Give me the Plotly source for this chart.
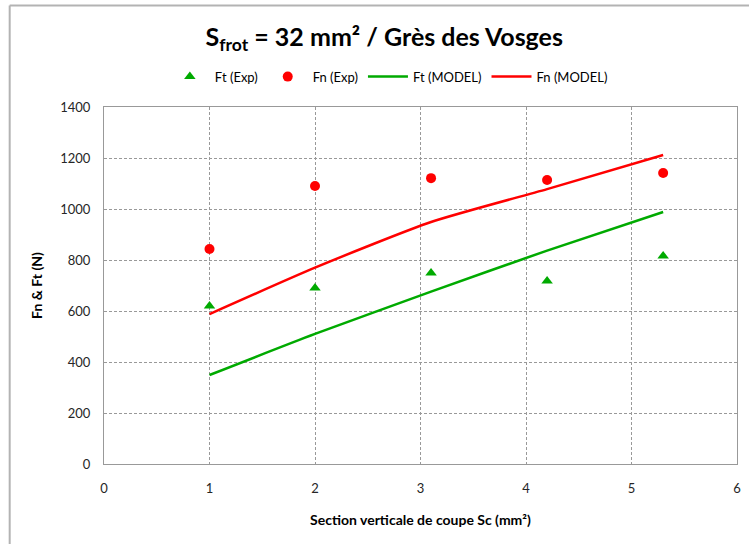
import plotly.graph_objects as go

# Experimental measurements
sc_exp = [1.0, 2.0, 3.1, 4.2, 5.3]
ft_exp = [620, 690, 749, 718, 816]
fn_exp = [843, 1090, 1121, 1114, 1141]

# Model predictions
sc_model = [1.0, 2.0, 3.1, 4.2, 5.3]
ft_model = [349, 510, 676, 837, 988]
fn_model = [588, 770, 949, 1078, 1212]

x_ticks = [0, 1, 2, 3, 4, 5, 6]
y_ticks = [0, 200, 400, 600, 800, 1000, 1200, 1400]

GREEN = "#00AA00"
RED = "#FF0000"
FONT = "Lato, Carlito, 'Open Sans', sans-serif"

fig = go.Figure()
fig.add_trace(go.Scatter(x=sc_exp, y=ft_exp, mode="markers", name="Ft (Exp)",
                         marker=dict(symbol="triangle-up", size=10, color=GREEN)))
fig.add_trace(go.Scatter(x=sc_exp, y=fn_exp, mode="markers", name="Fn (Exp)",
                         marker=dict(symbol="circle", size=10, color=RED)))
fig.add_trace(go.Scatter(x=sc_model, y=ft_model, mode="lines", name="Ft (MODEL)",
                         line=dict(color=GREEN, width=2.5, shape="spline", smoothing=0.6)))
fig.add_trace(go.Scatter(x=sc_model, y=fn_model, mode="lines", name="Fn (MODEL)",
                         line=dict(color=RED, width=2.5, shape="spline", smoothing=0.6)))

axis_common = dict(
    showgrid=True, gridcolor="#999999", griddash="3px,2px", gridwidth=1,
    showline=True, linecolor="#999999", linewidth=1, mirror=True,
    zeroline=False, ticks="", tickfont=dict(family=FONT, size=13, color="#262626"),
)

# chart-area frame (top and left edges)
frame = dict(color="#b3b3b3", width=2)

fig.update_layout(
    width=749, height=544,
    paper_bgcolor="white", plot_bgcolor="white",
    margin=dict(l=104, r=8, t=107, b=80),
    font=dict(family=FONT),
    title=dict(text="<b>S<sub>frot</sub> = 32 mm² / Grès des Vosges</b>",
               x=0.513, xanchor="center", y=0.932, yanchor="middle",
               font=dict(family=FONT, size=25, color="black")),
    legend=dict(orientation="h", x=0.45, xanchor="center", y=1.085, yanchor="middle",
                font=dict(family=FONT, size=13, color="black"),
                itemwidth=40, tracegroupgap=0),
    xaxis=dict(range=[0, 6], tickvals=x_ticks, ticklabelstandoff=12, **axis_common,
               title=dict(text="<b>Section verticale de coupe Sc (mm²)</b>",
                          font=dict(family=FONT, size=14, color="black"), standoff=20)),
    yaxis=dict(range=[0, 1400], tickvals=y_ticks, ticklabelstandoff=10, **axis_common,
               title=dict(text="<b>Fn & Ft (N)</b>",
                          font=dict(family=FONT, size=14, color="black"), standoff=14)),
    shapes=[
        dict(type="line", xref="paper", yref="paper", x0=-0.149, x1=1.02,
             y0=1.284, y1=1.284, line=frame),
        dict(type="line", xref="paper", yref="paper", x0=-0.149, x1=-0.149,
             y0=1.284, y1=-0.3, line=frame),
    ],
)

fig.write_html("out.html")
